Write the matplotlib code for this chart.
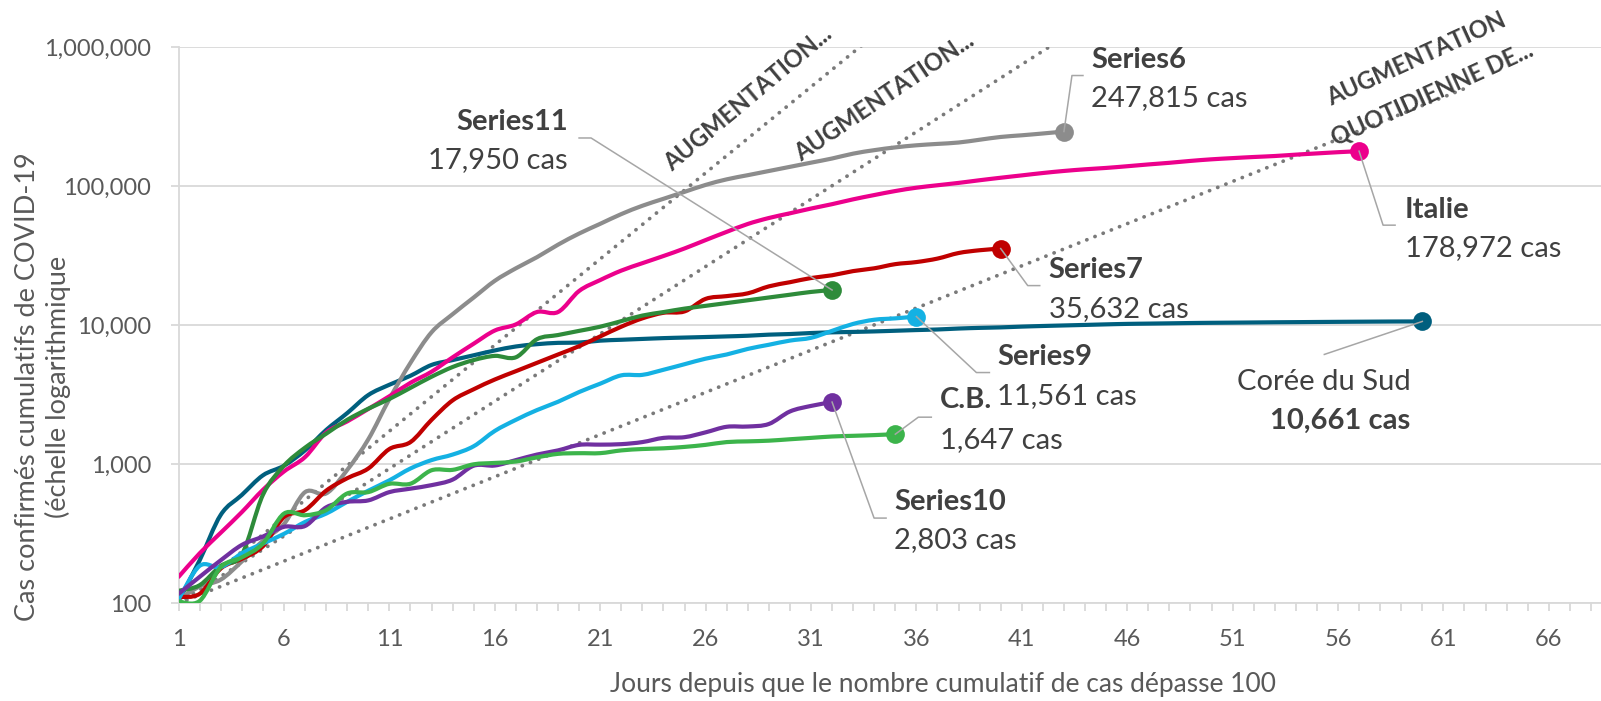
import numpy as np
import matplotlib
matplotlib.use('Agg')
import matplotlib.pyplot as plt
import matplotlib.transforms as mtransforms
from matplotlib.path import Path
from matplotlib.patches import PathPatch
from matplotlib.ticker import FixedLocator, NullLocator, FuncFormatter

plt.rcParams['font.family'] = ['Lato', 'DejaVu Sans']

# cumulative confirmed cases, one value per day since the 100th case
korea = [104, 204, 433, 602, 833, 977, 1261, 1766, 2337, 3150,
         3736, 4335, 5186, 5621, 6088, 6593, 7041, 7313, 7478, 7513,
         7755, 7869, 7979, 8086, 8162, 8236, 8320, 8413, 8565, 8652,
         8799, 8897, 8961, 9037, 9137, 9241, 9332, 9478, 9583, 9661,
         9786, 9887, 9976, 10062, 10156, 10237, 10284, 10331, 10384, 10423,
         10450, 10480, 10512, 10537, 10564, 10591, 10613, 10635, 10653, 10661]
italy = [155, 229, 322, 453, 655, 888, 1128, 1694, 2036, 2502,
         3089, 3858, 4636, 5883, 7375, 9172, 10149, 12462, 12462, 17660,
         21157, 24747, 27980, 31506, 35713, 41035, 47021, 53578, 59138, 63927,
         69176, 74386, 80589, 86498, 92472, 97689, 101739, 105792, 110574, 115242,
         119827, 124632, 128948, 132547, 135586, 139422, 143626, 147577, 152271, 156363,
         159516, 162488, 165155, 168941, 172434, 175925, 178972]
series6 = [107, 132, 148, 200, 282, 372, 631, 617, 912, 1514,
           2951, 5370, 8913, 12023, 15849, 20893, 25704, 30903, 38019, 45709,
           53703, 63096, 72444, 81283, 91201, 102329, 112202, 120226, 128825, 138038,
           147911, 158489, 171791, 181970, 190546, 197242, 201837, 206538, 216272, 226464,
           232810, 239883, 247815]
series7 = [111, 117, 178, 209, 257, 417, 468, 646, 794, 933,
           1288, 1445, 2089, 2884, 3467, 4074, 4677, 5370, 6166, 7079,
           8318, 9772, 11220, 12303, 12589, 15488, 16218, 16982, 19055, 20417,
           21878, 22909, 24547, 25704, 27542, 28510, 30200, 33113, 34674, 35632]
series11 = [123, 135, 186, 224, 603, 977, 1318, 1660, 2089, 2512,
            2951, 3548, 4266, 5012, 5623, 6026, 5888, 7943, 8511, 9120,
            9772, 10715, 11749, 12445, 13183, 13804, 14454, 15136, 15849, 16596,
            17378, 17950]
series9 = [107, 186, 182, 229, 269, 316, 385, 442, 537, 646,
           767, 933, 1072, 1175, 1349, 1738, 2089, 2455, 2818, 3311,
           3802, 4365, 4400, 4786, 5248, 5754, 6166, 6761, 7244, 7762,
           8128, 9120, 10233, 10965, 11220, 11561]
series10 = [117, 155, 204, 263, 302, 355, 360, 490, 537, 550,
            631, 668, 708, 776, 977, 980, 1072, 1175, 1259, 1380,
            1385, 1396, 1445, 1549, 1567, 1698, 1862, 1870, 1950, 2399,
            2630, 2803]
cb = [103, 104, 182, 214, 269, 442, 430, 468, 617, 631,
      724, 725, 906, 912, 1000, 1023, 1047, 1122, 1189, 1202,
      1203, 1259, 1288, 1303, 1334, 1380, 1445, 1462, 1479, 1514,
      1549, 1585, 1603, 1622, 1647]

series = [
    ('Corée du Sud', korea, '#005f7e'),
    ('Series6', series6, '#8c8c8c'),
    ('Italie', italy, '#ec008c'),
    ('Series7', series7, '#c00000'),
    ('Series11', series11, '#2e8b3a'),
    ('Series9', series9, '#14b1e3'),
    ('Series10', series10, '#7030a0'),
    ('C.B.', cb, '#3cb44b'),
]

# guide lines: constant daily growth from 100 cases on day 1
guide_rates = [0.33, 0.25, 0.15]
guide_last_day = [34, 43, 62]
guide_titles = ['AUGMENTATION...', 'AUGMENTATION...', 'AUGMENTATION\nQUOTIDIENNE DE...']

x_ticks = list(range(1, 70, 5))
y_ticks = [100, 1000, 10000, 100000, 1000000]

TEXT = '#404040'
AXIS_TEXT = '#595959'
GRID = '#d9d9d9'
LEADER = '#a6a6a6'

W, H = 1601, 701
left_px, top_px, bottom_px = 178.6, 47.3, 603.3
px_per_day = 21.08


def smooth_path(values):
    """Bezier path through the daily points, smoothed in log space."""
    x = np.arange(1, len(values) + 1, dtype=float)
    y = np.log10(values)
    n = len(x)
    verts = [(x[0], y[0])]
    codes = [Path.MOVETO]
    for i in range(n - 1):
        i0 = max(i - 1, 0)
        i3 = min(i + 2, n - 1)
        c1 = (x[i] + (x[i + 1] - x[i0]) / 6, y[i] + (y[i + 1] - y[i0]) / 6)
        c2 = (x[i + 1] - (x[i3] - x[i]) / 6, y[i + 1] - (y[i3] - y[i]) / 6)
        verts += [c1, c2, (x[i + 1], y[i + 1])]
        codes += [Path.CURVE4] * 3
    v = np.array(verts)
    v[:, 1] = 10 ** v[:, 1]
    return Path(v, codes)


fig = plt.figure(figsize=(W / 100, H / 100), dpi=100)
ax = fig.add_axes([left_px / W, 1 - bottom_px / H,
                   1 - left_px / W, (bottom_px - top_px) / H])
ax.set_yscale('log')
ax.set_ylim(100, 1e6)
ax.set_xlim(1, 1 + (W - left_px) / px_per_day)

# axes styling
for s in ['top', 'right']:
    ax.spines[s].set_visible(False)
for s in ['left', 'bottom']:
    ax.spines[s].set_color(GRID)
    ax.spines[s].set_linewidth(1.3)
ax.yaxis.set_major_locator(FixedLocator(y_ticks))
ax.yaxis.set_minor_locator(NullLocator())
ax.yaxis.set_major_formatter(FuncFormatter(lambda v, p: f'{v:,.0f}'))
ax.xaxis.set_major_locator(FixedLocator(x_ticks))
ax.xaxis.set_minor_locator(FixedLocator(range(1, 70)))
ax.tick_params(axis='both', which='both', direction='out', length=5.8,
               width=1.3, color=GRID)
ax.tick_params(axis='x', which='major', labelsize=17, labelcolor=AXIS_TEXT, pad=13)
ax.tick_params(axis='y', which='major', labelsize=17, labelcolor=AXIS_TEXT, pad=14)
ax.yaxis.grid(True, color=GRID, lw=1.3)
ax.set_axisbelow(True)

# dotted growth guides
for rate, last in zip(guide_rates, guide_last_day):
    ax.plot([1, last], [100, 100 * (1 + rate) ** (last - 1)], color='#7a7a7a',
            lw=2.7, linestyle=(0, (0.05, 2.3)), dash_capstyle='round', zorder=2)

guide_text_pos = [(28.0, 10 ** 5.635, 40), (34.5, 10 ** 5.642, 34), (60.1, 10 ** 5.79, 24.5)]
for title, (tx, ty, rot) in zip(guide_titles, guide_text_pos):
    ax.text(tx, ty, title, rotation=rot, rotation_mode='anchor', ha='center',
            va='center', multialignment='center', fontsize=17, fontweight='bold',
            color=TEXT, clip_on=False, linespacing=1.8, zorder=6)

# country curves with end markers
for z, (name, vals, color) in enumerate(series):
    ax.add_patch(PathPatch(smooth_path(vals), fill=False, edgecolor=color, lw=3.0,
                           capstyle='round', joinstyle='round', zorder=3 + z * 0.01))
    ax.plot([len(vals)], [vals[-1]], 'o', ms=13.5, color=color, mec='none', zorder=4)

# callouts: text offsets and leader bends in pixels from the end marker (y down)
callouts = {
    'Series6': dict(dx=27, name_dy=-64, value_dy=-25, ha='left',
                    leader=[(0, 0), (8, -56), (19, -56)]),
    'Italie': dict(dx=46, name_dy=67, value_dy=105, ha='left',
                   leader=[(0, 0), (24, 74), (36, 74)]),
    'Series7': dict(dx=48, name_dy=29, value_dy=68, ha='left',
                    leader=[(0, 0), (27, 37), (39, 37)]),
    'Series11': dict(dx=-264, name_dy=-160, value_dy=-122, ha='right',
                     leader=[(0, 0), (-241, -152), (-253, -152)]),
    'Series9': dict(dx=81, name_dy=48, value_dy=88, ha='left',
                    leader=[(0, 0), (60, 56), (73, 56)]),
    'C.B.': dict(dx=45, name_dy=-26, value_dy=14, ha='left',
                 leader=[(0, 0), (23, -17), (36, -17)]),
    'Series10': dict(dx=62, name_dy=108, value_dy=146, ha='left',
                     leader=[(0, 0), (42, 116), (54, 116)]),
    'Corée du Sud': dict(dx=-12, name_dy=69, value_dy=107, ha='right',
                         leader=[(0, 0), (-98, 33)], value_bold=True),
}

pix = mtransforms.IdentityTransform()
for name, vals, color in series:
    c = callouts[name]
    x0, y0 = ax.transData.transform((len(vals), vals[-1]))
    lx = [x0 + p[0] for p in c['leader']]
    ly = [y0 - p[1] for p in c['leader']]
    ax.plot(lx, ly, color=LEADER, lw=1.1, transform=pix, zorder=5, clip_on=False)
    value_bold = c.get('value_bold', False)
    ax.annotate(name, (len(vals), vals[-1]), xytext=(c['dx'], -c['name_dy']),
                textcoords='offset pixels', ha=c['ha'], va='baseline', fontsize=21,
                fontweight='normal' if value_bold else 'bold', color=TEXT, zorder=7)
    ax.annotate(f'{vals[-1]:,} cas', (len(vals), vals[-1]),
                xytext=(c['dx'], -c['value_dy']), textcoords='offset pixels',
                ha=c['ha'], va='baseline', fontsize=21,
                fontweight='bold' if value_bold else 'normal', color=TEXT, zorder=7)

# axis titles
fig.text(43 / W, 1 - 387 / H, 'Cas confirmés cumulatifs de COVID-19\n(échelle logarithmique',
         rotation=90, ha='center', va='center', multialignment='center',
         fontsize=19.5, color=AXIS_TEXT, linespacing=1.2)
fig.text(943 / W, 1 - 692 / H, 'Jours depuis que le nombre cumulatif de cas dépasse 100',
         ha='center', va='baseline', fontsize=19, color=AXIS_TEXT)

fig.savefig('out.png', dpi=100)
